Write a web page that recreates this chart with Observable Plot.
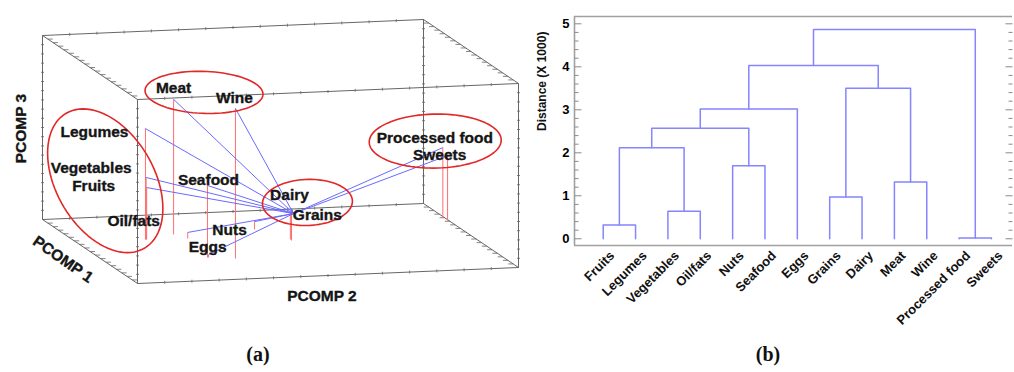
<!DOCTYPE html>
<html>
<head>
<meta charset="utf-8">
<script src="https://cdn.jsdelivr.net/npm/d3@7"></script>
<script src="https://cdn.jsdelivr.net/npm/@observablehq/plot@0.6"></script>
<style>
  html, body { margin: 0; padding: 0; background: #fff; }
  #wrap { position: relative; width: 1014px; height: 372px; overflow: hidden; background: #fff; }
  #left { position: absolute; left: 0; top: 0; }
  #right { position: absolute; left: 520px; top: 0; }
  .cap { position: absolute; top: 343px; width: 60px; text-align: center;
         font-family: 'Liberation Serif', 'DejaVu Serif', serif; font-weight: bold; font-size: 20px; color: #111; }
</style>
</head>
<body>
<div id="wrap">
  <div id="left"></div>
  <div id="right"></div>
  <div class="cap" style="left:228px">(a)</div>
  <div class="cap" style="left:738px">(b)</div>
</div>
<script>
// ---------------- DATA: panel (a) PCA scores ----------------
const pcaFoods = ["Legumes","Vegetables","Fruits","Oil/fats","Seafood","Meat","Wine","Dairy","Grains","Nuts","Eggs","Processed food","Sweets"];
const pc1 = [1.06, 1.06, 1.04, 0.94, -2.27, 1.69, -2.62, -0.09, 0.08, 1.94, -2.28, 2.60, 2.09];
const pc2 = [-4.01, -3.99, -3.98, -2.82, -3.05, -3.04, -2.33, -0.08, -0.07, -0.64, -3.02, 4.96, 4.97];
const pc3 = [3.22, 1.36, 0.98, -0.77, 1.74, 4.14, 4.71, 0.22, 0.03, -0.70, -0.89, 1.66, 1.47];
const pcaGroup = ["A","A","A","A",null,"B","B","C","C",null,null,"D","D"];
const pc1Domain = [-6, 5], pc2Domain = [-6, 5], pc3Domain = [-1, 6];
const axisTitles = ["PCOMP 1", "PCOMP 2", "PCOMP 3"];

// ---------------- DATA: panel (b) dendrogram ----------------
const leaves = ["Fruits","Legumes","Vegetables","Oil/fats","Nuts","Seafood","Eggs","Grains","Dairy","Meat","Wine","Processed food","Sweets"];
const mergeLeft  = [0, 2, 4, 13, 16, 17, 7, 9, 19, 11, 18, 23];
const mergeRight = [1, 3, 5, 14, 15, 6, 8, 10, 20, 12, 21, 22];
const mergeHeight = [0.32, 0.64, 1.70, 2.12, 2.57, 3.02, 0.97, 1.32, 3.50, 0.02, 4.03, 4.87];
const yTicks = [0, 1, 2, 3, 4, 5];
const yLabel = "Distance (X 1000)";

// ---------------- Layout / style config ----------------
const FONT = "'Liberation Sans', Arial, Helvetica, sans-serif";
const view = { ox: 137, oy: 283, e1: [-95, -64], e2: [381, -16], e3: [0, -184] };
const labelOffset = {
  "Legumes": [-51, 3], "Vegetables": [-55, -9], "Fruits": [-53, -2], "Oil/fats": [-54, -11],
  "Seafood": [1, -5], "Meat": [0, -11], "Wine": [-1, -10], "Dairy": [-2, -13], "Grains": [27, 3],
  "Nuts": [-25, 8], "Eggs": [-1, -8], "Processed food": [-8, -10], "Sweets": [-8, -1]
};
const ellipseStyle = { A: {a: 78, b: 49, angle: 60, dx: 2, dy: 4}, B: {a: 59, b: 21, angle: 2, dx: 0, dy: -1},
  C: {a: 45, b: 23, angle: -2, dx: 4, dy: -3}, D: {a: 66, b: 27, angle: -1, dx: -2, dy: -5} };

// ---------------- Panel (a) ----------------
const n1 = v => (v - pc1Domain[0]) / (pc1Domain[1] - pc1Domain[0]);
const n2 = v => (v - pc2Domain[0]) / (pc2Domain[1] - pc2Domain[0]);
const n3 = v => (v - pc3Domain[0]) / (pc3Domain[1] - pc3Domain[0]);
function projN(p1, p2, p3) {
  return [view.ox + view.e1[0]*p1 + view.e2[0]*p2 + view.e3[0]*p3,
          view.oy + view.e1[1]*p1 + view.e2[1]*p2 + view.e3[1]*p3];
}
const origin = projN(n1(0), n2(0), n3(0));
const pts = pcaFoods.map((name, i) => {
  const p1 = n1(pc1[i]), p2 = n2(pc2[i]), p3 = n3(pc3[i]);
  const [x, y] = projN(p1, p2, p3);
  const [fx, fy] = projN(p1, p2, 0);
  const off = labelOffset[name];
  return {name, x, y, fx, fy, lx: x + off[0], ly: y + off[1], group: pcaGroup[i]};
});

// box edges
const corners = [];
for (const a of [0,1]) for (const b of [0,1]) for (const c of [0,1]) corners.push([a,b,c]);
const edges = [];
for (let i = 0; i < 8; i++) for (let j = i+1; j < 8; j++) {
  const d = corners[i].map((v,k) => Math.abs(v - corners[j][k])).reduce((s,v)=>s+v,0);
  if (d === 1) {
    const [x1,y1] = projN(...corners[i]); const [x2,y2] = projN(...corners[j]);
    edges.push({x1,y1,x2,y2});
  }
}
// tick marks on the box edges
const boxTicks = [];
for (const b of [0,1]) for (const c of [0,1]) {
  for (let k = 1; k < 18; k++) { // depth edges (hatch)
    const [x,y] = projN(k/18, b, c);
    const dir = b === 0 ? 1 : -1;
    boxTicks.push({x1: x, y1: y, x2: x + 5*dir, y2: y});
  }
}
for (const a of [0,1]) for (const b of [0,1]) {
  for (let k = 1; k < 20; k++) { // vertical edges
    const [x,y] = projN(a, b, k/20);
    boxTicks.push({x1: x - 1.5, y1: y, x2: x + 1.5, y2: y});
  }
}
for (const a of [0,1]) for (const c of [0,1]) {
  for (let k = 1; k < 14; k++) { // horizontal edges
    const [x,y] = projN(a, k/14, c);
    boxTicks.push({x1: x, y1: y - 1.5, x2: x, y2: y + 1.5});
  }
}

// ellipses around groups (centred on the group's labels)
const ellipsePts = [];
for (const g of Object.keys(ellipseStyle)) {
  const mem = pts.filter(p => p.group === g);
  const s = ellipseStyle[g];
  const cx = d3.mean(mem, p => p.lx) + s.dx, cy = d3.mean(mem, p => p.ly) + s.dy;
  const th = s.angle * Math.PI / 180;
  for (let k = 0; k < 90; k++) {
    const t = 2 * Math.PI * k / 90;
    ellipsePts.push({g,
      x: cx + s.a*Math.cos(th)*Math.cos(t) - s.b*Math.sin(th)*Math.sin(t),
      y: cy + s.a*Math.sin(th)*Math.cos(t) + s.b*Math.cos(th)*Math.sin(t)});
  }
}

// axis titles positioned from box edges
const e2mid = projN(0, 0.5, 0), e3mid = projN(1, 0, 0.5), e1mid = projN(0.5, 0, 0);
const titles = [
  {t: axisTitles[0], x: e1mid[0] - 27, y: e1mid[1] + 8, r: 35},
  {t: axisTitles[1], x: e2mid[0] - 6, y: e2mid[1] + 21, r: 0},
  {t: axisTitles[2], x: e3mid[0] - 21, y: e3mid[1] + 1, r: -90}
];

const left = Plot.plot({
  width: 520, height: 330, margin: 0,
  x: {domain: [0, 520], range: [0, 520], axis: null},
  y: {domain: [0, 330], range: [0, 330], axis: null},
  style: {fontFamily: FONT, background: "white"},
  marks: [
    Plot.link(edges, {x1: "x1", y1: "y1", x2: "x2", y2: "y2", stroke: "#555", strokeWidth: 0.9}),
    Plot.link(boxTicks, {x1: "x1", y1: "y1", x2: "x2", y2: "y2", stroke: "#666", strokeWidth: 0.8}),
    Plot.link(pts, {x1: "x", y1: "y", x2: "fx", y2: "fy", stroke: "#ff6e6e", strokeWidth: 1}),
    Plot.link(pts, {x1: () => origin[0], y1: () => origin[1], x2: "x", y2: "y", stroke: "#6a6aff", strokeWidth: 1}),
    Plot.line(ellipsePts, {x: "x", y: "y", z: "g", stroke: "#e22727", strokeWidth: 1.6, curve: "linear-closed"}),
    Plot.text(pts, {x: "lx", y: "ly", text: "name", fontSize: 15.5, fontWeight: "bold", fill: "#151515",
      stroke: "#151515", strokeWidth: 0.35}),
    Plot.text(titles, {x: "x", y: "y", text: "t", rotate: "r", fontSize: 15.5, fontWeight: "bold", fill: "#151515",
      stroke: "#151515", strokeWidth: 0.35})
  ]
});
document.getElementById("left").appendChild(left);

// ---------------- Panel (b) ----------------
const nodeX = leaves.map((_, i) => i), nodeH = leaves.map(() => 0);
const linkRows = [];
mergeLeft.forEach((a, i) => {
  const b = mergeRight[i], h = mergeHeight[i];
  nodeX.push((nodeX[a] + nodeX[b]) / 2); nodeH.push(h);
  linkRows.push({id: i, x: nodeX[a], y: nodeH[a]}, {id: i, x: nodeX[a], y: h},
                {id: i, x: nodeX[b], y: h}, {id: i, x: nodeX[b], y: nodeH[b]});
});

const W = 494, H = 330, mL = 54, mR = 2, mT = 16, mB = 85;
const xDom = [-0.887, 12.65], yDom = [-0.156, 5.17];
const pxu = (W - mL - mR) / (xDom[1] - xDom[0]);
const tickVals = d3.range(0, 26).map(k => k / 5);
const ticks = [];
for (const v of tickVals) {
  const major = Math.abs(v - Math.round(v)) < 1e-9;
  const len = (major ? 7 : 4) / pxu;
  ticks.push({y: v, x1: xDom[0], x2: xDom[0] + len});
  ticks.push({y: v, x1: xDom[1] - len, x2: xDom[1]});
}

const right = Plot.plot({
  width: W, height: H, marginLeft: mL, marginRight: mR, marginTop: mT, marginBottom: mB,
  x: {domain: xDom, axis: null},
  y: {domain: yDom, axis: null},
  style: {fontFamily: FONT, fontWeight: "bold", background: "white", overflow: "visible"},
  marks: [
    Plot.ruleY([yDom[1]], {stroke: "#a0a0a0", strokeWidth: 1.6}),
    Plot.ruleY([yDom[0]], {stroke: "#a0a0a0", strokeWidth: 1.6}),
    Plot.ruleX([xDom[0]], {stroke: "#a0a0a0", strokeWidth: 1.6}),
    Plot.link(ticks, {x1: "x1", x2: "x2", y1: "y", y2: "y", stroke: "#8a8a8a", strokeWidth: 1}),
    Plot.axisY({ticks: yTicks, tickSize: 0, tickPadding: 5, fontSize: 13, fontWeight: "bold", label: null, tickFormat: d3.format("d")}),
    Plot.text([yLabel], {frameAnchor: "left", dx: -32, rotate: -90, fontSize: 12, fontWeight: "bold", fill: "#111"}),
    Plot.line(linkRows, {x: "x", y: "y", z: "id", stroke: "#8585ff", strokeWidth: 1.5, curve: "linear"}),
    Plot.text(leaves, {x: (d, i) => i, y: () => yDom[0], text: d => d, rotate: -45, textAnchor: "end",
      dx: 9, dy: 8, fontSize: 13, fontWeight: "bold", fill: "#111"})
  ]
});
document.getElementById("right").appendChild(right);
</script>
</body>
</html>
